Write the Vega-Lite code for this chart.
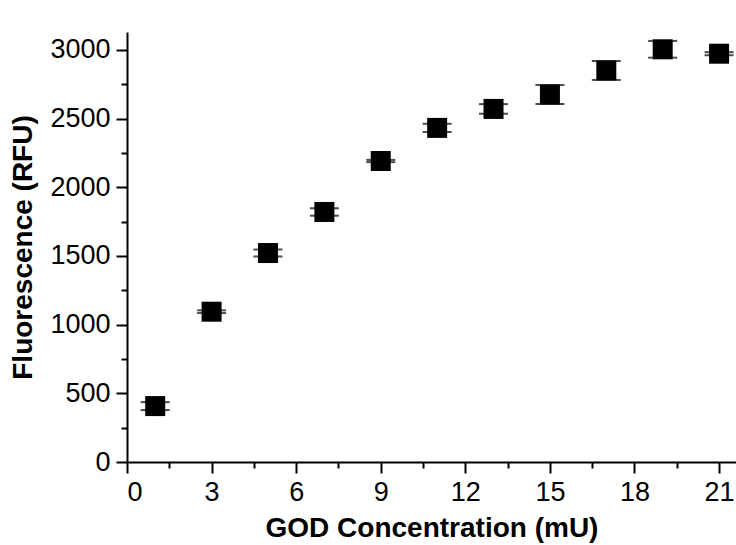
{
  "$schema": "https://vega.github.io/schema/vega-lite/v6.json",
  "width": 609,
  "height": 430,
  "autosize": {"type": "none"},
  "padding": {"left": 127, "top": 32, "right": 0, "bottom": 83},
  "background": "white",
  "config": {
    "view": {"stroke": null},
    "axis": {
      "grid": false,
      "domainColor": "black",
      "domainWidth": 2,
      "tickColor": "black",
      "tickWidth": 2,
      "tickSize": 11,
      "labelFont": "Liberation Sans",
      "labelFontSize": 27,
      "labelColor": "black",
      "labelPadding": 6,
      "titleFont": "Liberation Sans",
      "titleFontSize": 28,
      "titleFontWeight": "bold",
      "titleColor": "black"
    }
  },
  "data": {
    "values": [
      {"x": 1, "y": 407, "ymin": 378, "ymax": 436},
      {"x": 3, "y": 1094, "ymin": 1084, "ymax": 1104},
      {"x": 5, "y": 1521, "ymin": 1496, "ymax": 1546},
      {"x": 7, "y": 1820, "ymin": 1793, "ymax": 1847},
      {"x": 9, "y": 2191, "ymin": 2183, "ymax": 2199},
      {"x": 11, "y": 2432, "ymin": 2402, "ymax": 2462},
      {"x": 13, "y": 2570, "ymin": 2535, "ymax": 2605},
      {"x": 15, "y": 2675, "ymin": 2606, "ymax": 2744},
      {"x": 17, "y": 2850, "ymin": 2781, "ymax": 2919},
      {"x": 19, "y": 3004, "ymin": 2943, "ymax": 3065},
      {"x": 21, "y": 2972, "ymin": 2961, "ymax": 2983}
    ]
  },
  "layer": [
    {
      "mark": {
        "type": "errorbar",
        "ticks": {"size": 29, "thickness": 2, "color": "black"},
        "rule": {"strokeWidth": 1.5, "color": "black"}
      },
      "encoding": {
        "x": {
          "field": "x", "type": "quantitative",
          "scale": {"domain": [0, 21.6], "nice": false, "zero": false},
          "axis": {
            "orient": "bottom",
            "values": [0, 3, 6, 9, 12, 15, 18, 21],
            "format": "d",
            "title": "GOD Concentration (mU)",
            "titlePadding": 9
          }
        },
        "y": {
          "field": "ymin", "type": "quantitative",
          "scale": {"domain": [0, 3130], "nice": false, "zero": false},
          "axis": {
            "orient": "left",
            "values": [0, 500, 1000, 1500, 2000, 2500, 3000],
            "format": "d",
            "title": "Fluorescence (RFU)",
            "titlePadding": 12
          }
        },
        "y2": {"field": "ymax"}
      }
    },
    {
      "mark": {"type": "point", "shape": "square", "filled": true, "size": 400, "color": "black", "opacity": 1},
      "encoding": {
        "x": {"field": "x", "type": "quantitative", "axis": null},
        "y": {"field": "y", "type": "quantitative", "axis": null}
      }
    },
    {
      "mark": {"type": "point", "opacity": 0},
      "encoding": {
        "x": {
          "field": "x", "type": "quantitative",
          "axis": {
            "orient": "bottom",
            "values": [1.5, 4.5, 7.5, 10.5, 13.5, 16.5, 19.5],
            "labels": false, "domain": false, "tickSize": 6, "title": null
          }
        },
        "y": {
          "field": "y", "type": "quantitative",
          "axis": {
            "orient": "left",
            "values": [250, 750, 1250, 1750, 2250, 2750],
            "labels": false, "domain": false, "tickSize": 6, "title": null
          }
        }
      }
    }
  ],
  "resolve": {"axis": {"x": "independent", "y": "independent"}}
}
